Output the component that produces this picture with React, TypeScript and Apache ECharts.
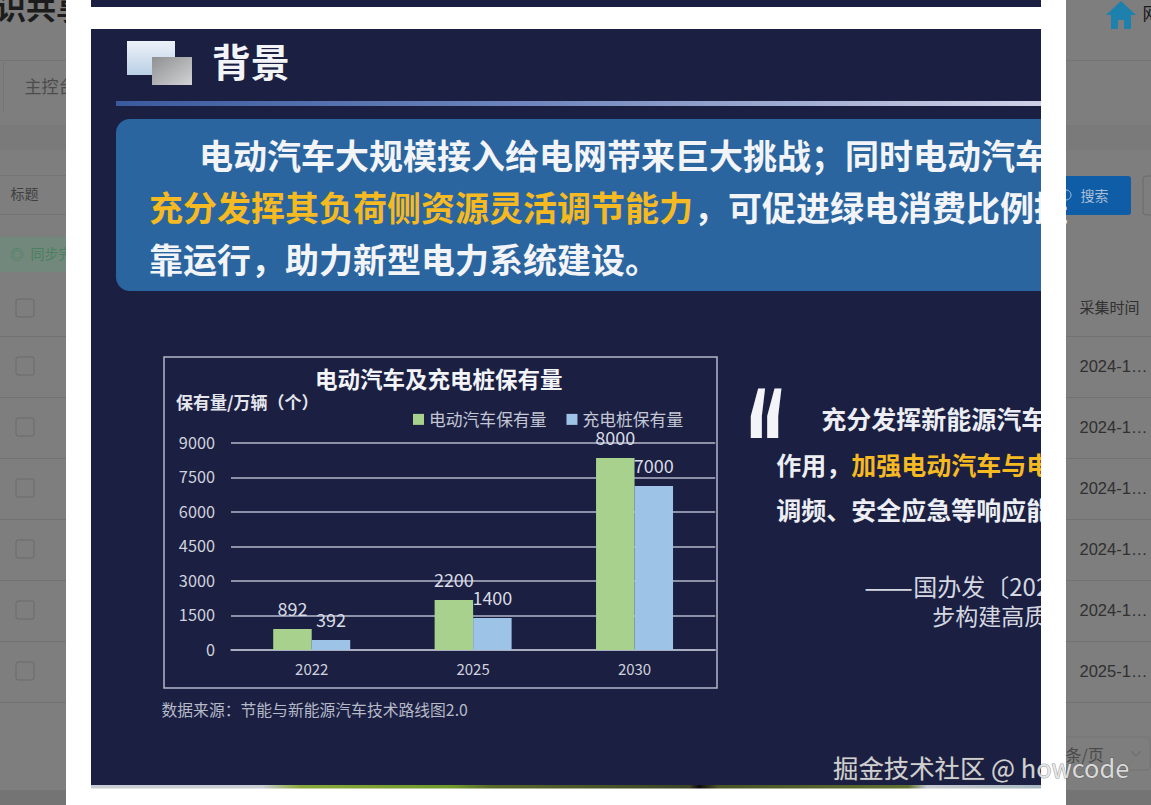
import React, { useEffect, useRef } from "react";
import * as echarts from "echarts";

const chartTitle = "电动汽车及充电桩保有量";
const yAxisTitle = "保有量/万辆（个）";
const sourceNote = "数据来源：节能与新能源汽车技术路线图2.0";
const categories = ["2022", "2025", "2030"];
const evName = "电动汽车保有量";
const pileName = "充电桩保有量";
// Bar heights as drawn in the picture
const evHeights = [913, 2174, 8348];
const pileHeights = [435, 1391, 7130];
// Printed data labels
const evLabels = ["892", "2200", "8000"];
const pileLabels = ["392", "1400", "7000"];
const dateCells = ["2024-1…", "2024-1…", "2024-1…", "2024-1…", "2024-1…", "2025-1…"];

const CJK = '"Noto Sans CJK SC", "Noto Sans", sans-serif';
const WHITE = "#f2f4f8";
const YELLOW = "#f5b921";
const GRID = "#b4b8ca";

function txt(x: number, y: number, text: string, size: number, fill: string, weight: any = "normal", extra: any = {}) {
  return {
    type: "text", x: x - size * 0.03, y: y - size * 0.07,
    style: { text, fontSize: size, fill, fontWeight: weight, fontFamily: CJK, textVerticalAlign: "middle", verticalAlign: "middle", ...extra },
  };
}
function box(x: number, y: number, width: number, height: number, fill: any, extra: any = {}, r: any = 0) {
  return { type: "rect", shape: { x, y, width, height, r }, style: { fill, ...extra } };
}

function backgroundElements() {
  const g: any[] = [];
  const rowLines = [336, 397, 458, 519, 580, 641, 702];
  g.push(box(0, 0, 1151, 805, "#7e7e7e"));
  g.push(box(0, 125, 1151, 25, "#7a7a7a"));
  g.push(box(0, 60, 1151, 1, "#747474"));
  g.push(box(0, 175, 66, 1, "#747474"));
  g.push(box(0, 214, 66, 1, "#747474"));
  g.push(box(0, 237, 66, 35, "#72887c"));
  g.push(box(3, 62, 1, 50, "#747474"));
  rowLines.forEach((y) => {
    g.push(box(0, y, 66, 1, "#727272"));
    g.push(box(1066, y, 85, 1, "#727272"));
  });
  [308, 366, 427, 488, 549, 610, 671].forEach((y) => {
    g.push(box(16, y - 9, 18, 18, "#7e7e7e", { stroke: "#6a6a6a", lineWidth: 1 }, 2));
  });
  g.push(box(1143, 176, 20, 39, "#7e7e7e", { stroke: "#6a6a6a", lineWidth: 1 }, 3));
  g.push(box(1050, 176, 81, 39, "#0f5da6", {}, 3));
  g.push(box(1030, 737, 120, 33, "#7e7e7e", { stroke: "#747474", lineWidth: 1 }, 3));
  g.push({ type: "polyline", shape: { points: [[1131, 751], [1136, 756], [1141, 751]] }, style: { stroke: "#686868", lineWidth: 1, fill: "none" } });
  g.push({ type: "circle", shape: { cx: 1066, cy: 195, r: 5 }, style: { fill: "none", stroke: "#a9bfd8", lineWidth: 1 } });
  g.push(box(0, 790, 1151, 15, "#747474"));
  g.push(txt(-3, 8, "识共享", 30, "#1c1c1c", "bold"));
  g.push(txt(25, 87, "主控台", 17, "#4c4c4c"));
  g.push(txt(11, 194, "标题", 14, "#404040"));
  g.push(txt(11, 254, "◎", 13, "#3f8059"));
  g.push(txt(31, 254, "同步完成", 14, "#4a8060"));
  g.push(txt(1143, 14, "网", 17, "#1a1a1a"));
  g.push(txt(1081, 196, "搜索", 14, "#a9bfd8"));
  g.push(txt(1080, 308, "采集时间", 15, "#303030"));
  dateCells.forEach((d, i) => g.push(txt(1080, 367 + i * 61, d, 16.5, "#303030", "normal", { fontFamily: '"Liberation Sans", sans-serif' })));
  g.push(txt(1066, 755, "条/页", 16, "#4a4a4a"));
  g.push({
    type: "polygon", shape: { points: [[1121, 1], [1136, 15], [1131, 15], [1131, 29], [1124, 29], [1124, 20], [1118, 20], [1118, 29], [1111, 29], [1111, 15], [1106, 15]] },
    style: { fill: "#1d80ad" },
  });
  // Modal and slide
  g.push(box(66, 0, 1000, 805, "#ffffff"));
  g.push(box(91, 0, 950, 7, "#1b1f42"));
  g.push(box(91, 29, 950, 756, "#1b1f42"));
  g.push(box(91, 785, 950, 3.5, new echarts.graphic.LinearGradient(0, 0, 1, 0, [
    { offset: 0, color: "#c9ccd2" }, { offset: 0.18, color: "#c9ccd2" }, { offset: 0.22, color: "#8aa83a" },
    { offset: 0.38, color: "#6f9a2c" }, { offset: 0.42, color: "#5a6a2a" }, { offset: 0.63, color: "#3c4426" },
    { offset: 0.64, color: "#0c0c10" }, { offset: 0.66, color: "#4a5426" }, { offset: 0.86, color: "#5f6f30" },
    { offset: 0.88, color: "#c5c8ce" }, { offset: 1, color: "#a8b8c0" },
  ])));
  g.push(box(127, 41, 48, 34, new echarts.graphic.LinearGradient(0, 0, 0, 1, [
    { offset: 0, color: "#eef2f8" }, { offset: 1, color: "#b9d0e6" },
  ])));
  g.push(box(152, 57, 40, 28, new echarts.graphic.LinearGradient(0, 0, 1, 1, [
    { offset: 0, color: "#8f9092" }, { offset: 1, color: "#d2d3d5" },
  ])));
  g.push(txt(213, 63, "背景", 39, WHITE, "bold"));
  g.push(box(116, 101, 925, 5, new echarts.graphic.LinearGradient(0, 0, 1, 0, [
    { offset: 0, color: "#3b5a9e" }, { offset: 0.45, color: "#6f86bd" }, { offset: 1, color: "#cfd0e6" },
  ])));
  g.push(box(116, 119, 925, 172, "#2a659f", {}, [14, 0, 0, 14]));
  g.push(txt(200, 157, "电动汽车大规模接入给电网带来巨大挑战；同时电动汽车", 34, WHITE, "bold"));
  g.push(txt(150, 209, "充分发挥其负荷侧资源灵活调节能力", 34, YELLOW, "bold"));
  g.push(txt(695, 209, "，可促进绿电消费比例提", 34, WHITE, "bold"));
  g.push(txt(150, 261, "靠运行，助力新型电力系统建设。", 34, WHITE, "bold"));
  g.push(box(164, 357, 553, 331, "transparent", { stroke: GRID, lineWidth: 1.5 }));
  g.push(txt(162, 711, sourceNote, 15.8, "#b6bac8"));
  g.push({
    type: "text", x: 744, y: 370, scaleX: 0.92, scaleY: 2.2,
    style: { text: "“", fontSize: 72, fill: WHITE, fontWeight: "bold", fontFamily: '"DejaVu Sans", sans-serif', textVerticalAlign: "top", verticalAlign: "top" },
  });
  g.push(txt(822, 420, "充分发挥新能源汽车", 25, "#eceef3", "bold"));
  g.push(txt(777, 466, "作用，", 25, "#eceef3", "bold"));
  g.push(txt(852, 466, "加强电动汽车与电", 25, YELLOW, "bold"));
  g.push(txt(777, 511, "调频、安全应急等响应能", 25, "#eceef3", "bold"));
  g.push(txt(865, 587, "——", 29, "#d4d7e0"));
  g.push(txt(914, 587, "国办发〔202", 24, "#d4d7e0"));
  g.push(txt(933, 617, "步构建高质", 23, "#d4d7e0"));
  // Slide's right edge clips the text
  g.push(box(1041, 0, 25, 805, "#ffffff"));
  return g;
}

export default function App() {
  const ref = useRef<HTMLDivElement>(null);
  useEffect(() => {
    document.body.style.margin = "0";
    const chart = echarts.init(ref.current!, undefined, { renderer: "svg" });
    const labelStyle = (labels: string[]) => ({
      show: true,
      position: "top" as const,
      distance: 12,
      fontSize: 18,
      color: "#d8dbe4",
      fontFamily: CJK,
      formatter: (p: any) => labels[p.dataIndex],
    });
    chart.setOption({
      animation: false,
      backgroundColor: "transparent",
      title: [
        { text: chartTitle, left: 310, top: 362, textStyle: { color: WHITE, fontSize: 22.5, fontWeight: "bold", fontFamily: CJK } },
        { text: yAxisTitle, left: 171, top: 388, textStyle: { color: "#e4e6ec", fontSize: 17, fontWeight: "bold", fontFamily: CJK } },
      ],
      legend: {
        left: 408, top: 406, itemWidth: 11, itemHeight: 11, itemGap: 20, icon: "rect",
        textStyle: { color: "#c4c8d6", fontSize: 16.8, fontFamily: CJK },
        data: [evName, pileName],
      },
      grid: { left: 231, right: 435.75, top: 443, bottom: 155 },
      xAxis: {
        type: "category", data: categories,
        axisLine: { lineStyle: { color: GRID, width: 1.5 } },
        axisTick: { show: false },
        axisLabel: { color: "#d0d3dd", fontSize: 15, margin: 11, fontFamily: CJK },
      },
      yAxis: {
        type: "value", min: 0, max: 9000, interval: 1500,
        axisLine: { show: false }, axisTick: { show: false },
        axisLabel: { color: "#d0d3dd", fontSize: 16.3, margin: 16, verticalAlign: "bottom", lineHeight: 3, fontFamily: CJK, formatter: (v: number) => String(v) },
        splitLine: { lineStyle: { color: GRID, width: 1.5 } },
      },
      series: [
        { name: evName, type: "bar", data: evHeights, barWidth: 38.5, barGap: 0, itemStyle: { color: "#a9d18e" }, label: labelStyle(evLabels) },
        { name: pileName, type: "bar", data: pileHeights, barWidth: 38.5, barGap: 0, itemStyle: { color: "#9dc3e6" }, label: labelStyle(pileLabels) },
      ],
      graphic: [
        { type: "group", z: -10, silent: true, children: backgroundElements() },
        {
          type: "text", x: 833, y: 766.5, z: 50, silent: true,
          style: { text: "掘金技术社区 @ howcode", fontSize: 25.4, fill: "rgba(232,232,232,0.9)", stroke: "rgba(70,70,70,0.55)", lineWidth: 1, fontFamily: CJK, textVerticalAlign: "middle", verticalAlign: "middle" },
        },
      ],
    });
    return () => chart.dispose();
  }, []);
  return <div ref={ref} style={{ position: "absolute", left: 0, top: 0, width: 1151, height: 805 }} />;
}
